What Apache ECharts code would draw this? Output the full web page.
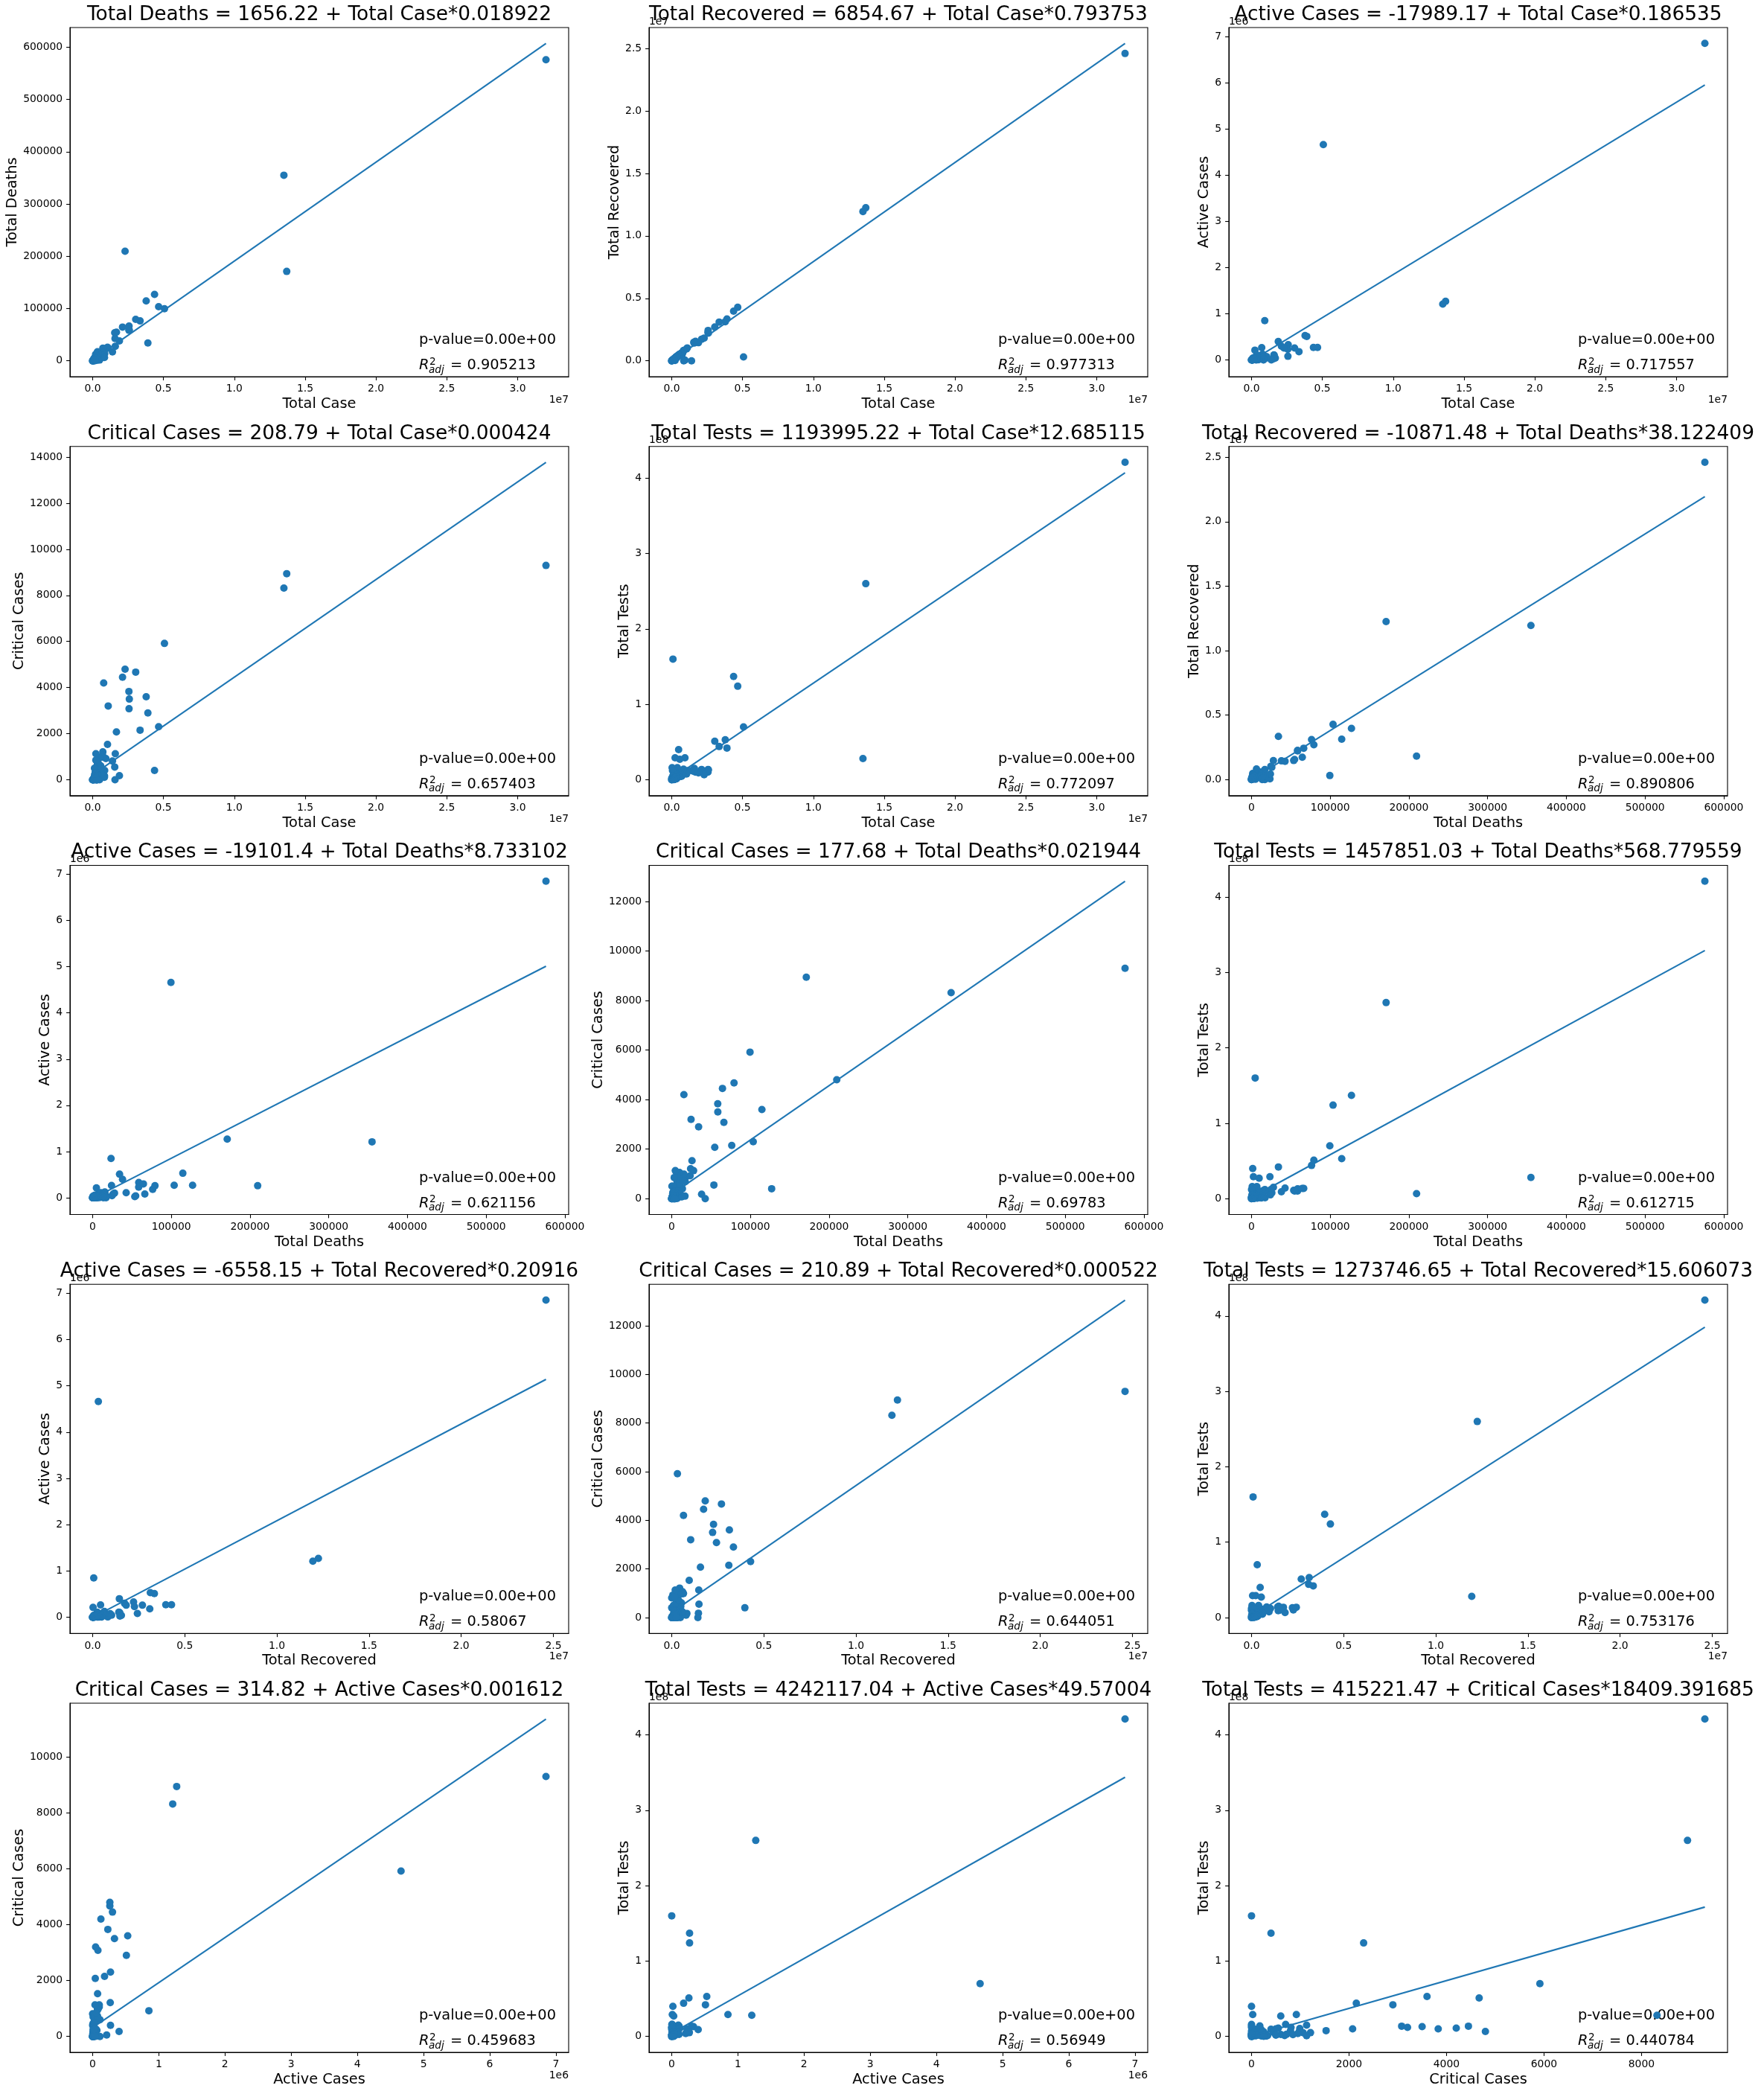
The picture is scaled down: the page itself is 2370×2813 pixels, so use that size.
<!DOCTYPE html>
<html><head><meta charset="utf-8">
<script src="https://cdn.jsdelivr.net/npm/echarts@6/dist/echarts.min.js"></script>
<style>html,body{margin:0;padding:0;background:#fff}#c{width:2370px;height:2813px}</style>
</head><body><div id="c"></div>
<script>
// ---- data (one value per country) ----
const totalCase = [32000000,13700000,13500000,5070000,4660000,4370000,3900000,3780000,3350000,3040000,2590000,2560000,2570000,2110000,2290000,1890000,1680000,1580000,1600000,1560000,1400000,850000,935000,1100000,780000,1050000,720000,90400,490000,240000,570000,240000,836000,829000,660000,620000,730000,700000,680000,500000,510000,500000,400000,360000,340000,360000,370000,280000,290000,310000,300000,380000,260000,220000,340000,250000,200000,220000,180000,210000,230000,270000,280000,170000,29400,60500,145000,164000,130000,230000,240000,290000,85000,2700,30000,95000,100000,85000,1200,30,110000,230000,200000,180000,140000,118000,170000,290000,170000];
const totalDeaths = [576000,171000,355000,99500,103600,127000,34200,114600,76300,79200,58600,58500,66300,64500,209700,38000,54700,42600,27800,53600,17000,13600,23400,24600,15500,25800,24000,4636,1540,2440,9700,4800,6300,16900,5900,10200,15600,9900,7900,8900,9400,6600,6800,1300,17200,6200,10600,12500,3900,9400,6500,14400,3400,3000,2400,1400,6900,3600,300,12400,3200,9100,3000,1700,909,30,2300,2060,1200,4600,5300,3400,470,35,95,600,700,870,10,0,2000,4300,3700,7300,4000,3100,2800,4000,1750];
const totalRecovered = [24600000,12250000,11950000,310000,4280000,3970000,3350000,3130000,3100000,2700000,2220000,2270000,2430000,1730000,1820000,1450000,1560000,1420000,1470000,1480000,0,0,60000,1030000,640000,950000,430000,85500,470000,228000,530000,23000,823000,780000,590000,555000,640000,590000,590000,490000,475000,420000,385000,345000,290000,350000,250000,230000,280000,265000,275000,290000,220000,200000,330000,230000,185000,200000,160000,160000,170000,230000,272000,160000,26000,60300,100000,154000,100000,190000,220000,260000,80000,2500,28000,92000,88000,46000,1100,25,100000,215000,180000,140000,115000,82000,155000,250000,150000];
const activeCases = [6850000,1270000,1210000,4660000,270000,270000,510000,530000,180000,260000,330000,230000,80000,300000,260000,400000,40000,110000,100000,25000,0,0,850000,45000,125000,75000,266000,270,18000,9500,30000,212000,6700,32000,64000,55000,74000,100000,82000,4100,26000,73000,8000,14000,33000,3000,110000,38000,6000,36000,18000,75000,35000,18000,8000,17000,8000,16000,20000,38000,58000,30000,5000,8000,2500,170,43000,8000,29000,36000,15000,26000,4500,165,1900,2700,11000,38000,90,5,8000,10000,16000,33000,21000,33000,12000,36000,18000];
const criticalCases = [9300,8944,8318,5916,2300,400,2900,3600,2150,4670,3500,3830,3080,4450,4798,177,2074,0,1130,550,810,400,920,3200,4200,1530,1210,0,0,25,600,50,170,100,220,250,990,1060,980,450,500,950,700,200,680,90,600,70,0,800,250,720,200,300,0,200,5,160,500,90,850,300,0,250,0,0,100,10,500,1130,330,220,80,0,5,20,60,50,0,0,70,100,300,300,200,20,0,0,250];
const totalTests = [421000000,260000000,28000000,70000000,124000000,137000000,42000000,53000000,44000000,51000000,13000000,10000000,13600000,13600000,6600000,9000000,10000000,14000000,15000000,11000000,12000000,9500000,29000000,12000000,11000000,7700000,5000000,160000000,40000000,29000000,27000000,4000000,14000000,9500000,4500000,6000000,10500000,4900000,6500000,5500000,10000000,3900000,16000000,9000000,1200000,2200000,2600000,1100000,4000000,7500000,1700000,3000000,1100000,1000000,7000000,2500000,800000,3000000,1900000,1000000,2400000,1100000,2300000,3200000,16000000,12000000,1500000,1800000,1900000,1000000,1200000,6000000,3000000,2000000,1800000,2300000,5000000,5000000,50000,1000,1600000,1400000,700000,700000,600000,230000,1000000,3500000,300000];

// ---- regressions (x variable, y variable, intercept, slope, adjusted R^2) ----
const xVars = ['Total Case','Total Case','Total Case','Total Case','Total Case','Total Deaths','Total Deaths','Total Deaths','Total Deaths','Total Recovered','Total Recovered','Total Recovered','Active Cases','Active Cases','Critical Cases'];
const yVars = ['Total Deaths','Total Recovered','Active Cases','Critical Cases','Total Tests','Total Recovered','Active Cases','Critical Cases','Total Tests','Active Cases','Critical Cases','Total Tests','Critical Cases','Total Tests','Total Tests'];
const intercepts = [1656.22,6854.67,-17989.17,208.79,1193995.22,-10871.48,-19101.4,177.68,1457851.03,-6558.15,210.89,1273746.65,314.82,4242117.04,415221.47];
const slopes = [0.018922,0.793753,0.186535,0.000424,12.685115,38.122409,8.733102,0.021944,568.779559,0.20916,0.000522,15.606073,0.001612,49.57004,18409.391685];
const r2adj = [0.905213,0.977313,0.717557,0.657403,0.772097,0.890806,0.621156,0.69783,0.612715,0.58067,0.644051,0.753176,0.459683,0.56949,0.440784];
const pValueText = 'p-value=0.00e+00';

// ---- tick label formats per variable ----
const tickStep = {'Total Case':5e6,'Total Deaths':1e5,'Total Recovered':5e6,'Active Cases':1e6,'Critical Cases':2000,'Total Tests':1e8};
const tickDiv = {'Total Case':1e7,'Total Deaths':1,'Total Recovered':1e7,'Active Cases':1e6,'Critical Cases':1,'Total Tests':1e8};
const tickDec = {'Total Case':1,'Total Deaths':0,'Total Recovered':1,'Active Cases':0,'Critical Cases':0,'Total Tests':0};
const offsetText = {'Total Case':'1e7','Total Deaths':'','Total Recovered':'1e7','Active Cases':'1e6','Critical Cases':'','Total Tests':'1e8'};

const vars = {'Total Case':totalCase,'Total Deaths':totalDeaths,'Total Recovered':totalRecovered,'Active Cases':activeCases,'Critical Cases':criticalCases,'Total Tests':totalTests};

// ---- layout ----
const colLeft = [94, 872, 1651];
const rowTop = [37, 599.75, 1162.5, 1725.25, 2288];
const PW = 670, PH = 469;
const FONT = 'DejaVu Sans';
const COLOR = '#1f77b4';
const FS_TICK = 13.9, FS_LABEL = 19.4, FS_TITLE = 26.4, FS_ANN = 19.4, FS_SUB = 13.6;

function padRange(arr){ let mn = Math.min(...arr), mx = Math.max(...arr); const p = (mx - mn) * 0.05; return [mn - p, mx + p]; }
function ticksFor(r, step){ const out = []; for (let k = Math.ceil(r[0] / step); k * step <= r[1] + 1e-6; k++) out.push(k * step); return out; }
function fmt(v, name){ return (v / tickDiv[name]).toFixed(tickDec[name]); }
function textW(s, fs){ let w = 0; for (const ch of s) w += (ch === '.' ? 0.318 : ch === '-' ? 0.361 : 0.636); return w * fs; }

const grids = [], xAxes = [], yAxes = [], series = [], graphics = [];

function txt(text, x, y, opts){
  graphics.push(Object.assign({type:'text', x:x, y:y, silent:true, style:Object.assign({text:text, fill:'#000', fontFamily:FONT, fontSize:FS_ANN, align:'left', verticalAlign:'middle'}, opts.style || {})}, opts.el || {}));
}

for (let i = 0; i < 15; i++) {
  const r = Math.floor(i / 3), c = i % 3;
  const left = colLeft[c], top = rowTop[r], bottom = top + PH, right = left + PW;
  const xn = xVars[i], yn = yVars[i];
  const xs = vars[xn], ys = vars[yn];
  const a = intercepts[i], b = slopes[i];
  const xmin = Math.min(...xs), xmax = Math.max(...xs);
  const lineData = [[xmin, a + b * xmin], [xmax, a + b * xmax]];
  const xr = padRange(xs);
  const yr = padRange(ys.concat([lineData[0][1], lineData[1][1]]));
  const xt = ticksFor(xr, tickStep[xn]);
  const yt = ticksFor(yr, tickStep[yn]);

  grids.push({left:left, top:top, width:PW, height:PH, show:true, borderColor:'#000', borderWidth:1.1, backgroundColor:'transparent', containLabel:false});
  const axisCommon = {
    type:'value', gridIndex:i, scale:true,
    axisLine:{show:true, onZero:false, lineStyle:{color:'#000', width:1.1}},
    splitLine:{show:false},
    axisTick:{show:true, inside:false, length:4.9, lineStyle:{color:'#000', width:1.1}},
  };
  xAxes.push(Object.assign({}, axisCommon, {
    min:xr[0], max:xr[1],
    axisTick:Object.assign({}, axisCommon.axisTick, {customValues:xt}),
    axisLabel:{customValues:xt, formatter:(v)=>fmt(v, xn), color:'#000', fontSize:FS_TICK, fontFamily:FONT, margin:9.8, hideOverlap:false, showMinLabel:true, showMaxLabel:true}
  }));
  yAxes.push(Object.assign({}, axisCommon, {
    min:yr[0], max:yr[1],
    axisTick:Object.assign({}, axisCommon.axisTick, {customValues:yt}),
    axisLabel:{customValues:yt, formatter:(v)=>fmt(v, yn), color:'#000', fontSize:FS_TICK, fontFamily:FONT, margin:9.8, hideOverlap:false, showMinLabel:true, showMaxLabel:true}
  }));

  series.push({type:'scatter', xAxisIndex:i, yAxisIndex:i, data:xs.map((v, k) => [v, ys[k]]), symbol:'circle', symbolSize:10, itemStyle:{color:COLOR, opacity:1}, z:2, silent:true});
  series.push({type:'line', xAxisIndex:i, yAxisIndex:i, data:lineData, showSymbol:false, symbol:'none', lineStyle:{color:COLOR, width:2.1}, z:3, silent:true});

  // title
  txt(yn + ' = ' + String(a) + ' + ' + xn + '*' + String(b), left + PW / 2, top - 17, {style:{fontSize:FS_TITLE, align:'center'}});
  // x label
  txt(xn, left + PW / 2, bottom + 37, {style:{fontSize:FS_LABEL, align:'center'}});
  // y label
  const maxW = Math.max(...yt.map(v => textW(fmt(v, yn), FS_TICK)));
  txt(yn, left - (maxW + 24), top + PH / 2, {style:{fontSize:FS_LABEL, align:'center'}, el:{rotation:Math.PI / 2}});
  // offset texts
  if (offsetText[xn]) txt(offsetText[xn], right, bottom + 31.5, {style:{fontSize:FS_TICK, align:'right'}});
  if (offsetText[yn]) txt(offsetText[yn], left, top - 8, {style:{fontSize:FS_TICK, align:'left'}});
  // annotations
  const x0 = left + 0.7 * PW;
  const ybP = bottom - 0.0895 * PH;
  txt(pValueText, x0, ybP - 7, {style:{fontSize:FS_ANN}});
  const ybR = bottom - 0.017 * PH;
  txt('R', x0, ybR - 7, {style:{fontSize:FS_ANN, fontStyle:'italic'}});
  txt('2', x0 + 14, ybR - 12, {style:{fontSize:FS_SUB}});
  txt('adj', x0 + 13, ybR - 1, {style:{fontSize:FS_SUB, fontStyle:'italic'}});
  txt('= ' + String(r2adj[i]), x0 + 42, ybR - 7, {style:{fontSize:FS_ANN}});
}

const chart = echarts.init(document.getElementById('c'), null, {renderer:'canvas'});
chart.setOption({
  animation:false,
  backgroundColor:'#fff',
  textStyle:{fontFamily:FONT},
  grid:grids, xAxis:xAxes, yAxis:yAxes, series:series, graphic:graphics
});
</script></body></html>
